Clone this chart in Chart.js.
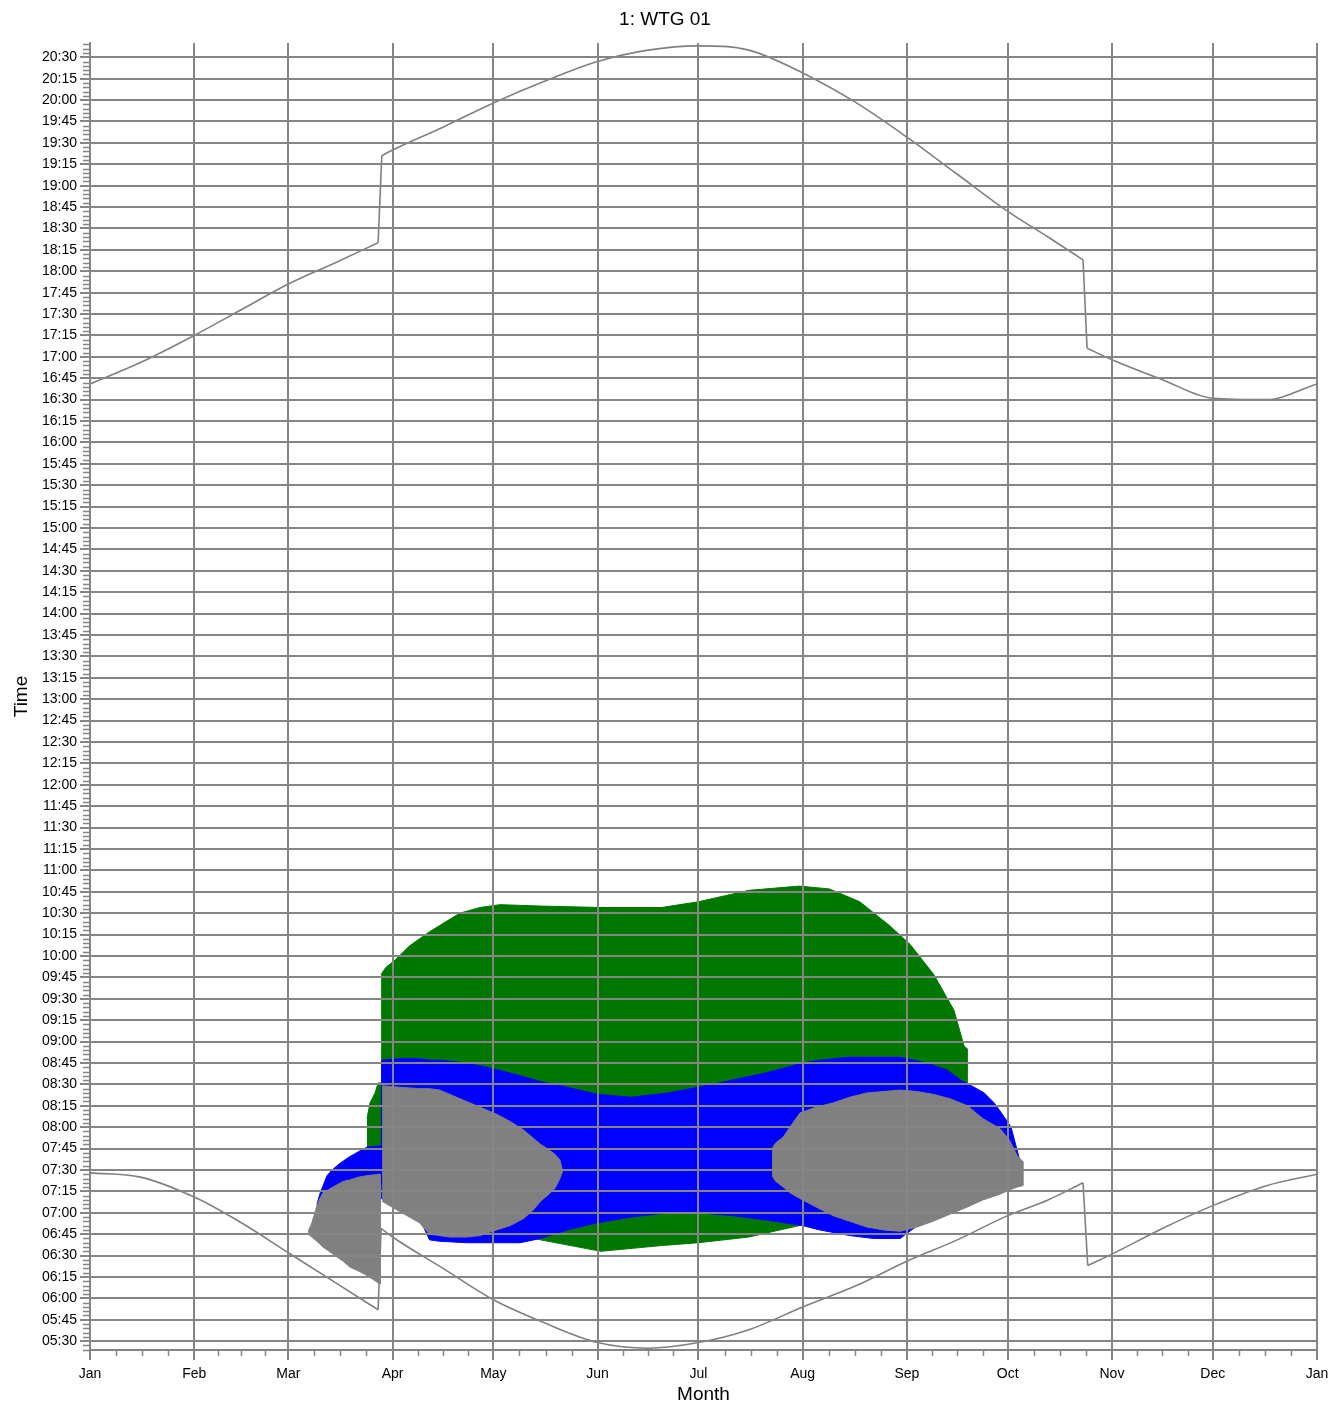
<!doctype html>
<html><head><meta charset="utf-8">
<script src="https://cdn.jsdelivr.net/npm/chart.js@4.4.1/dist/chart.umd.min.js"></script>
<style>
* { margin:0; padding:0; box-sizing:border-box; }
html,body { width:1343px; height:1404px; overflow:hidden; background:#fff; }
</style>
</head>
<body>
<canvas id="chart" width="1343" height="1404"></canvas>
<script>
// x axis: day of year, y axis: clock time in hours
const MONTH_DAYS = [0, 31, 59, 90, 120, 151, 181, 212, 243, 273, 304, 334, 365];
const MONTH_LABELS = ['Jan', 'Feb', 'Mar', 'Apr', 'May', 'Jun', 'Jul', 'Aug', 'Sep', 'Oct', 'Nov', 'Dec', 'Jan'];
const TIME_TICKS = ['05:30','05:45','06:00','06:15','06:30','06:45','07:00','07:15','07:30','07:45',
  '08:00','08:15','08:30','08:45','09:00','09:15','09:30','09:45','10:00','10:15','10:30','10:45',
  '11:00','11:15','11:30','11:45','12:00','12:15','12:30','12:45','13:00','13:15','13:30','13:45',
  '14:00','14:15','14:30','14:45','15:00','15:15','15:30','15:45','16:00','16:15','16:30','16:45',
  '17:00','17:15','17:30','17:45','18:00','18:15','18:30','18:45','19:00','19:15','19:30','19:45',
  '20:00','20:15','20:30'];
const Y_MIN = '5:23.8', Y_MAX = '20:40';

// sunset / sunrise (the two short steps are the summer time changes)
const SUNSET_DAYS = [0, 15, 31, 45, 59, 73, 85.7, 86.8, 90, 105, 120, 135, 151, 166, 181, 196, 212, 228, 243, 258, 273, 285, 295.4, 296.6, 304, 319, 334, 350, 365];
const SUNSET = ['16:41','16:56','17:15','17:33','17:51','18:06','18:20','19:21','19:25','19:41','19:58','20:13','20:27','20:35','20:38','20:35','20:19','19:58','19:34','19:08','18:42','18:24','18:08','17:06','16:58','16:44','16:31','16:30','16:41'];
const SUNRISE_DAYS = [0, 15, 31, 45, 59, 73, 85.7, 86.6, 90, 105, 120, 135, 151, 166, 181, 196, 212, 228, 243, 258, 273, 285, 295.4, 296.8, 304, 319, 334, 350, 365];
const SUNRISE = ['7:28','7:25','7:11','6:53','6:32','6:11','5:52','6:49','6:43','6:21','5:59','5:43','5:29','5:25','5:29','5:38','5:54','6:09','6:26','6:41','6:58','7:09','7:21','6:23','6:31','6:49','7:05','7:19','7:27'];

// green turbine shadow
const GREEN_PRE_DAYS = [82.4, 83.3, 84.8, 85.7, 86.6];
const GREEN_PRE_TOP = ['8:06','8:17','8:24','8:31','8:31'];
const GREEN_PRE_BOTTOM = ['7:40','7:40','7:40','7:40','7:40'];
const GREEN_DAYS = [86.6, 88, 90.7, 95, 101, 110, 116, 122, 134, 152, 170, 181, 196, 211, 220, 229, 238, 244, 251, 257, 260, 260.9];
const GREEN_TOP = ['9:47','9:52','9:57','10:07','10:17','10:30','10:34','10:36','10:35','10:34','10:34','10:38','10:46','10:49','10:47','10:38','10:21','10:08','9:47','9:22','8:57','8:55'];
const GREEN_BOTTOM = ['7:20','7:18','7:12','7:08','7:00','6:55','6:50','6:48','6:41','6:33','6:37','6:39','6:43','6:51','7:00','7:15','7:30','7:45','8:00','8:15','8:22','8:25'];

// blue turbine shadow
const BLUE_PRE_DAYS = [67.5, 68.5, 69.5, 70.5, 72, 74, 77, 80, 82.4, 86.6];
const BLUE_PRE_TOP = ['7:06','7:14','7:20','7:26','7:30','7:34','7:39','7:43','7:46','7:47'];
const BLUE_PRE_BOTTOM = ['7:01','7:03','7:05','7:06','7:08','7:10','7:12','7:14','7:16','7:20'];
const BLUE_DAYS = [86.6, 92, 98, 101, 104, 112, 120, 128, 134, 142, 151, 161, 172, 181, 191, 201, 212, 217, 226, 233, 241, 249, 255, 259, 263, 266, 269, 272, 274, 275, 276, 276.7];
const BLUE_TOP = ['8:47','8:48','8:48','8:47','8:47','8:45','8:41','8:36','8:32','8:28','8:23','8:21','8:24','8:28','8:33','8:38','8:45','8:47','8:49','8:49','8:49','8:45','8:40','8:33','8:28','8:24','8:17','8:07','8:00','7:51','7:42','7:36'];
const BLUE_BOTTOM = ['7:10','7:03','6:56','6:41','6:40','6:39','6:39','6:39','6:42','6:48','6:53','6:57','7:00','7:00','6:58','6:55','6:51','6:48','6:44','6:42','6:42','6:56','7:02','7:05','7:09','7:12','7:14','7:17','7:19','7:22','7:25','7:30'];

// grey turbine shadow
const GREY_PRE_DAYS = [64.9, 66, 67.5, 68.4, 69.3, 72.3, 75.3, 77.3, 80, 82.4, 86.3];
const GREY_PRE_TOP = ['6:47','6:53','7:05','7:10','7:14','7:18','7:22','7:23','7:25','7:26','7:27'];
const GREY_PRE_BOTTOM = ['6:45','6:43','6:40','6:38','6:36','6:31','6:26','6:22','6:19','6:16','6:10'];
const GREY_SPRING_DAYS = [86.9, 92, 98, 101, 104, 107, 112, 116, 121, 125, 129, 131.5, 134, 136, 138.3, 139.8, 140.4];
const GREY_SPRING_TOP = ['8:29','8:28','8:27','8:27','8:26','8:23','8:18','8:14','8:09','8:04','7:58','7:53','7:48','7:45','7:41','7:37','7:31'];
const GREY_SPRING_BOTTOM = ['7:08','7:01','6:53','6:45','6:44','6:43','6:43','6:44','6:48','6:51','6:56','7:01','7:08','7:12','7:17','7:24','7:28'];
const GREY_AUTUMN_DAYS = [202.9, 204, 206.2, 208.2, 211.2, 216, 221, 226, 231.1, 236, 241, 246, 250.8, 255.8, 261, 265.6, 270.7, 273.5, 275.8, 277.5];
const GREY_AUTUMN_TOP = ['7:45','7:49','7:53','8:00','8:10','8:14','8:17','8:21','8:24','8:25','8:26','8:25','8:23','8:20','8:15','8:06','7:59','7:51','7:40','7:36'];
const GREY_AUTUMN_BOTTOM = ['7:26','7:22','7:18','7:14','7:10','7:04','6:58','6:54','6:50','6:48','6:47','6:50','6:54','6:59','7:04','7:09','7:13','7:16','7:18','7:19'];

const GRID = '#858585';
const GREEN = '#007800', BLUE = '#0000ff', GREY = '#808080';

function toHours(s) {
  const [h, m] = s.split(':').map(Number);
  return h + m / 60;
}

function shape(days, top, bottom, color, order) {
  const pts = days.map((d, i) => ({ x: d, y: toHours(top[i]) }));
  for (let i = days.length - 1; i >= 0; i--) pts.push({ x: days[i], y: toHours(bottom[i]) });
  return { data: pts, backgroundColor: color, borderColor: color, borderWidth: 1,
    pointRadius: 0, fill: 'shape', tension: 0, order };
}

// smooth curve pieces, broken at the clock change steps; the steps themselves are straight
function curve(days, times) {
  const smooth = [], steps = [];
  days.forEach((d, i) => {
    smooth.push({ x: d, y: toHours(times[i]) });
    if (i < days.length - 1 && days[i + 1] - d < 2) {
      smooth.push({ x: d + 0.01, y: null });
      steps.push({ x: d, y: toHours(times[i]) }, { x: days[i + 1], y: toHours(times[i + 1]) }, { x: days[i + 1] + 0.01, y: null });
    }
  });
  const base = { borderColor: GREY, borderWidth: 1.6, pointRadius: 0, fill: false, order: 0 };
  return [
    { ...base, data: smooth, cubicInterpolationMode: 'monotone' },
    { ...base, data: steps, tension: 0 }
  ];
}

const minorTicks = {
  id: 'minorTicks',
  afterDraw(chart) {
    const { ctx, scales: { x, y } } = chart;
    ctx.save();
    ctx.strokeStyle = GRID;
    ctx.lineWidth = 1.5;
    ctx.beginPath();
    const lo = toHours(Y_MIN), hi = toHours(Y_MAX);
    for (let m = Math.ceil(lo * 20); m <= hi * 20; m++) {
      if (m % 5 === 0) continue;
      const py = Math.round(y.getPixelForValue(m / 20)) + 0.5;
      ctx.moveTo(y.right - 7, py); ctx.lineTo(y.right, py);
    }
    for (let i = 0; i < MONTH_DAYS.length - 1; i++) {
      for (let k = 1; k < 4; k++) {
        const v = MONTH_DAYS[i] + (MONTH_DAYS[i + 1] - MONTH_DAYS[i]) * k / 4;
        const px = Math.round(x.getPixelForValue(v)) + 0.5;
        ctx.moveTo(px, x.top); ctx.lineTo(px, x.top + 6);
      }
    }
    ctx.stroke();
    ctx.restore();
  }
};

Chart.defaults.font.family = "'Liberation Sans', Arial, sans-serif";
Chart.defaults.color = '#000';

new Chart(document.getElementById('chart'), {
  type: 'line',
  data: {
    datasets: [
      ...curve(SUNSET_DAYS, SUNSET),
      ...curve(SUNRISE_DAYS, SUNRISE),
      shape(GREY_PRE_DAYS, GREY_PRE_TOP, GREY_PRE_BOTTOM, GREY, 1),
      shape(GREY_SPRING_DAYS, GREY_SPRING_TOP, GREY_SPRING_BOTTOM, GREY, 1),
      shape(GREY_AUTUMN_DAYS, GREY_AUTUMN_TOP, GREY_AUTUMN_BOTTOM, GREY, 1),
      shape(BLUE_PRE_DAYS, BLUE_PRE_TOP, BLUE_PRE_BOTTOM, BLUE, 2),
      shape(BLUE_DAYS, BLUE_TOP, BLUE_BOTTOM, BLUE, 2),
      shape(GREEN_PRE_DAYS, GREEN_PRE_TOP, GREEN_PRE_BOTTOM, GREEN, 3),
      shape(GREEN_DAYS, GREEN_TOP, GREEN_BOTTOM, GREEN, 3)
    ]
  },
  options: {
    responsive: false,
    animation: false,
    devicePixelRatio: 1,
    spanGaps: false,
    layout: { padding: { left: 0, right: 13, top: 0, bottom: 0 } },
    plugins: {
      legend: { display: false },
      tooltip: { enabled: false },
      title: { display: true, text: '1: WTG 01', color: '#000',
        font: { size: 19, weight: 'normal' }, padding: { top: 8.6, bottom: 11.6 } }
    },
    scales: {
      x: {
        type: 'linear', min: 0, max: 365,
        afterBuildTicks: s => { s.ticks = MONTH_DAYS.map(v => ({ value: v })); },
        afterFit: s => { s.height = 54; },
        ticks: { autoSkip: false, maxRotation: 0, padding: 6, font: { size: 14 },
          callback: (v, i) => MONTH_LABELS[i] },
        grid: { color: GRID, lineWidth: 2, tickLength: 10, z: 1 },
        border: { color: GRID, width: 2, z: 1 },
        title: { display: true, text: 'Month', font: { size: 19 }, padding: { top: 0, bottom: -2 } }
      },
      y: {
        type: 'linear', min: toHours(Y_MIN), max: toHours(Y_MAX),
        afterBuildTicks: s => { s.ticks = TIME_TICKS.map(t => ({ value: toHours(t) })); },
        afterFit: s => { s.width = 90; },
        ticks: { autoSkip: false, padding: 3, font: { size: 14 },
          callback: (v, i) => TIME_TICKS[i] },
        grid: { color: GRID, lineWidth: 2, tickLength: 10, z: 1 },
        border: { color: GRID, width: 2, z: 1 },
        title: { display: true, text: 'Time', font: { size: 19 }, padding: { top: 10.6, bottom: 0 } }
      },
      // empty spacer on the right so the title centres like the original
      spacer: {
        type: 'linear', position: 'right', display: true,
        afterFit: s => { s.width = 13; },
        ticks: { display: false }, grid: { display: false }, border: { display: false }
      }
    }
  },
  plugins: [minorTicks]
});
</script>
</body></html>
